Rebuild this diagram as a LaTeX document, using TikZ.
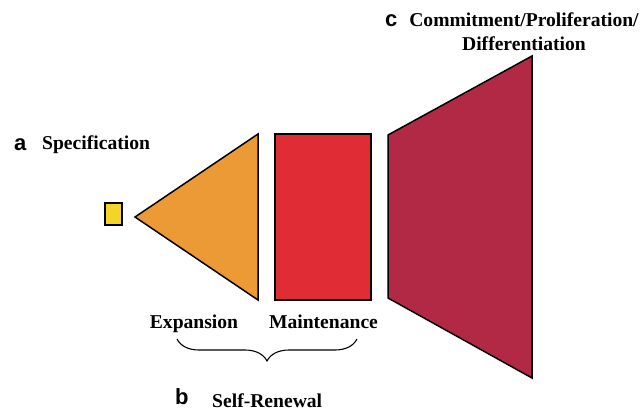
\documentclass[tikz,border=0pt]{standalone}
\usepackage{fontspec}
\setmainfont{Liberation Serif}
\newfontfamily\panelfont{Liberation Sans}
\usetikzlibrary{decorations.pathreplacing}

\definecolor{specyellow}{HTML}{F4D428}
\definecolor{expandorange}{HTML}{EC9A36}
\definecolor{maintred}{HTML}{E02C35}
\definecolor{commitred}{HTML}{B12944}

\newcommand{\stagetop}{134}
\newcommand{\stagebot}{300}
\newcommand{\textsz}{\fontsize{19.6}{24}\selectfont\bfseries}
\newcommand{\panelsz}{\fontsize{22}{26}\selectfont\panelfont\bfseries}

\tikzset{
  stage/.style={line width=1.5pt, line join=miter},
  lbl/.style={inner sep=0pt, font=\textsz},
  panel/.style={inner sep=0pt, anchor=base west, font=\panelsz}
}

\begin{document}
\begin{tikzpicture}[x=1pt, y=-1pt]
  \useasboundingbox (0,0) rectangle (643,410);

  \coordinate (S1) at (105, 203);
  \coordinate (S2) at (122, 225);

  \coordinate (E1) at (135, 217);
  \coordinate (E2) at (258, \stagetop);
  \coordinate (E3) at (258, \stagebot);

  \coordinate (M1) at (275, \stagetop);
  \coordinate (M2) at (371, \stagebot);

  \coordinate (C1) at (388, 135);
  \coordinate (C2) at (532, 56);
  \coordinate (C3) at (532, 378);
  \coordinate (C4) at (388, 298);

  \draw [stage, fill=specyellow] (S1) rectangle (S2);
  \draw [stage, fill=expandorange] (E1) -- (E2) -- (E3) -- cycle;
  \draw [stage, fill=maintred] (M1) rectangle (M2);
  \draw [stage, fill=commitred] (C1) -- (C2) -- (C3) -- (C4) -- cycle;

  \node [panel] (pa) at (14, 150) {a};
  \node [lbl, anchor=base west] (spec) at (42, 149) {Specification};

  \node [lbl, anchor=base] (expand) at (194, 328) {Expansion};
  \node [lbl, anchor=base] (maint) at (323.5, 328) {Maintenance};

  \coordinate (BL) at (177, 339);
  \coordinate (BR) at (357, 339);
  \draw [line width=1.1pt, decorate,
    decoration={brace, mirror, amplitude=22pt}] (BL) -- (BR);

  \node [panel] (pb) at (175, 404) {b};
  \node [lbl, anchor=base west] (renew) at (212, 407) {Self-Renewal};

  \node [panel] (pc) at (385, 26) {c};
  \node [lbl, anchor=base] (commit) at (524, 26) {Commitment/Proliferation/};
  \node [lbl, anchor=base] (differ) at (524, 50) {Differentiation};

\end{tikzpicture}
\end{document}
